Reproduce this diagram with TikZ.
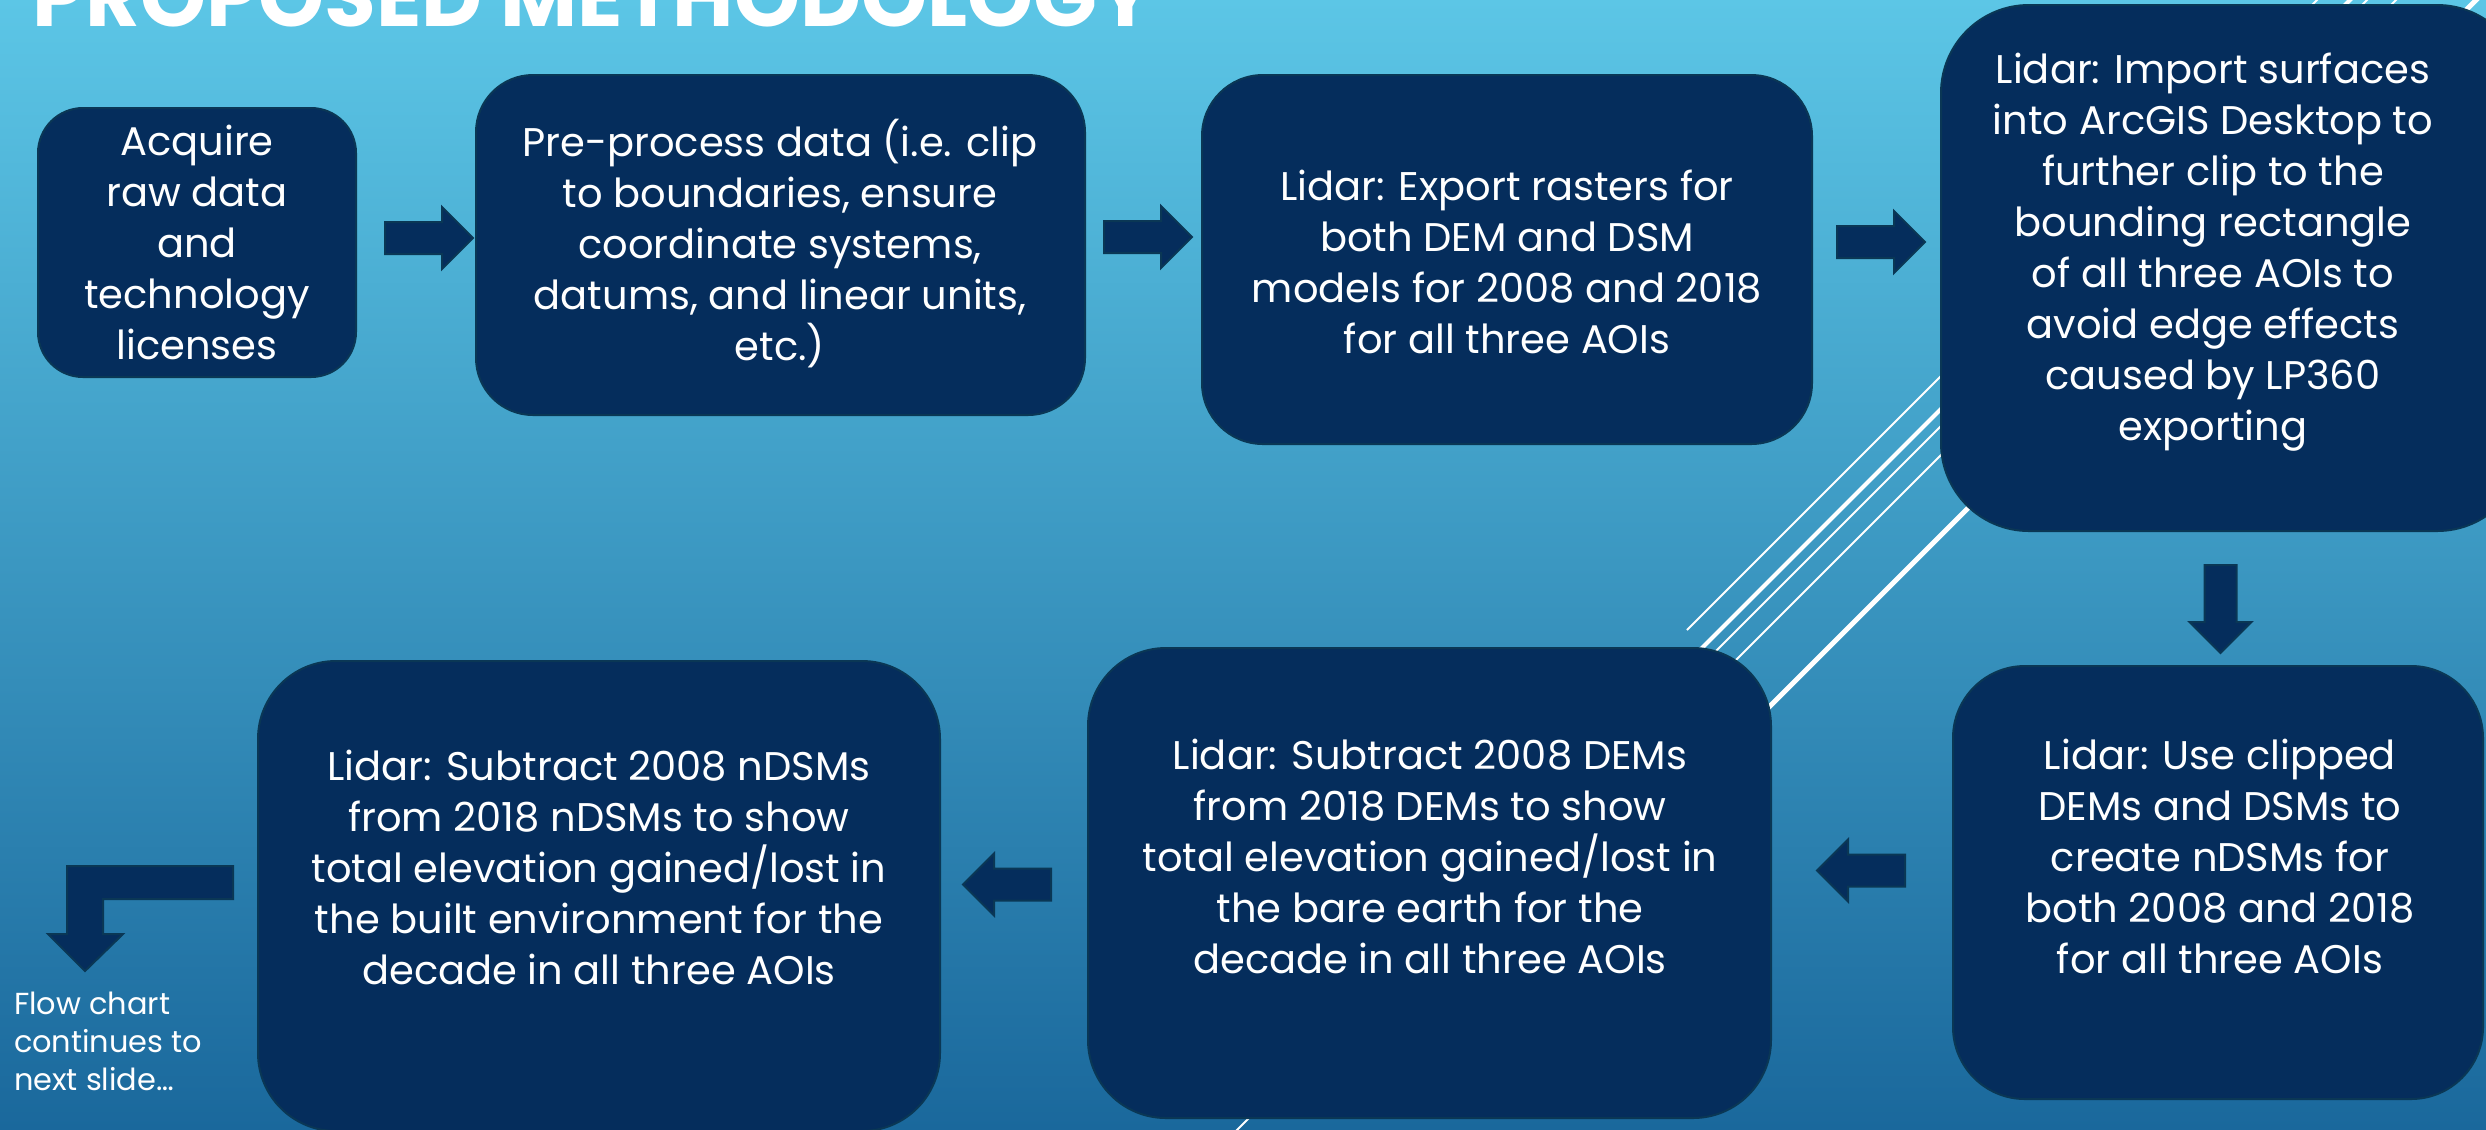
\documentclass[tikz,border=0pt]{standalone}
\usepackage{fontspec}
\setmainfont{Poppins}
\usetikzlibrary{shapes.arrows}

\definecolor{boxnavy}{RGB}{5,45,92}
\definecolor{boxedge}{RGB}{10,55,85}
\definecolor{skytop}{RGB}{92,198,230}
\definecolor{skymid}{RGB}{60,158,202}
\definecolor{skybot}{RGB}{26,104,156}

\tikzset{every picture/.style={line width=0.5pt}}
\tikzset{
  stepbox/.style={draw=boxedge, fill=boxnavy, line width=0.5pt, rounded corners=#1, inner sep=0pt},
  steptext/.style={text=white, align=center, inner sep=0pt, font=\fontsize{10}{12.75}\selectfont},
  blockarrow/.style={single arrow, draw=boxedge, fill=boxnavy, line width=0.5pt, anchor=tail,
    inner sep=3.75pt, minimum height=22pt, single arrow head extend=3.75pt,
    single arrow head indent=0pt, shape border rotate=#1},
  sliceline/.style={white, line width=#1},
}

\begin{document}
\begin{tikzpicture}[x=0.25pt,y=0.25pt,yscale=-1,xscale=1]
\useasboundingbox (0,0) rectangle (2486,1129);
\clip (0,0) rectangle (2486,1129);

%Background
\shade [top color=skytop, middle color=skymid, bottom color=skybot] (0,0) rectangle (2486,1129);

% Title, cut by the top edge
\node [anchor=base west, inner sep=0pt, text=white, font=\fontsize{21}{24}\selectfont\bfseries] (title) at (32,26) {PROPOSED METHODOLOGY};

%Straight Lines [slice decoration]
\draw [sliceline=0.5pt] (1687,630) -- (2330,-13);
\draw [sliceline=1pt] (1690,660) -- (2362,-12);
\draw [sliceline=0.5pt] (1225,1142) -- (2380,-13);
\draw [sliceline=0.5pt] (1730,666) -- (2409,-13);
\draw [sliceline=1.25pt] (1760,716) -- (2489,-13);

%Shape: Rounded Rect [steps]
\node [stepbox=11.25pt, minimum width=79.5pt, minimum height=67.25pt] (acq) at (197,242.5) {};
\node [stepbox=14.25pt, minimum width=152.25pt, minimum height=85pt] (prep) at (780.5,245) {};
\node [stepbox=15.25pt, minimum width=152.5pt, minimum height=92.25pt] (export) at (1507,259.5) {};
\node [stepbox=22pt, minimum width=146pt, minimum height=131.5pt] (import) at (2233,268) {};
\node [stepbox=18pt, minimum width=132.5pt, minimum height=108.25pt] (ndsm) at (2218,882.5) {};
\node [stepbox=19.5pt, minimum width=170.75pt, minimum height=117.5pt] (demdiff) at (1429.5,883) {};
\node [stepbox=19.5pt, minimum width=170.5pt, minimum height=117.5pt] (dsmdiff) at (599,896) {};

% Text Node
\node [steptext] (acq-t) at (197,242) {Acquire\\raw data\\and\\technology\\licenses};
% Text Node
\node [steptext] (prep-t) at (780,244) {Pre-process data (i.e. clip\\to boundaries, ensure\\coordinate systems,\\datums, and linear units,\\etc.)};
% Text Node
\node [steptext] (export-t) at (1507,262) {Lidar: Export rasters for\\both DEM and DSM\\models for 2008 and 2018\\for all three AOIs};
% Text Node
\node [steptext] (import-t) at (2213,252) {Lidar: Import surfaces\\into ArcGIS Desktop to\\further clip to the\\bounding rectangle\\of all three AOIs to\\avoid edge effects\\caused by LP360\\exporting};
% Text Node
\node [steptext] (ndsm-t) at (2220,856) {Lidar: Use clipped\\DEMs and DSMs to\\create nDSMs for\\both 2008 and 2018\\for all three AOIs};
% Text Node
\node [steptext] (demdiff-t) at (1430,856) {Lidar: Subtract 2008 DEMs\\from 2018 DEMs to show\\total elevation gained/lost in\\the bare earth for the\\decade in all three AOIs};
% Text Node
\node [steptext] (dsmdiff-t) at (599,867) {Lidar: Subtract 2008 nDSMs\\from 2018 nDSMs to show\\total elevation gained/lost in\\the built environment for the\\decade in all three AOIs};

%Block Arrows (placed by their tails)
\node [blockarrow=0] (a1) at (384,238) {};
\node [blockarrow=0] (a2) at (1103,237) {};
\node [blockarrow=0] (a3) at (1836,242) {};
\node [blockarrow=270] (a4) at (2220.5,564) {};
\node [blockarrow=180] (a5) at (1906,870.5) {};
\node [blockarrow=180] (a6) at (1052,884.5) {};

%Shape: Bent Arrow
\draw [draw=boxedge, fill=boxnavy] (233,866) -- (67,866) -- (67,934) -- (48,934) -- (85,971) -- (123,934) -- (103,934) -- (103,899) -- (233,899) -- cycle;

% Text Node
\node [anchor=north west, inner sep=0pt, text=white, align=left, font=\fontsize{7.6}{9.5}\selectfont] (cont) at (13,991) {Flow chart\\continues to\\next slide…};

\end{tikzpicture}
\end{document}
